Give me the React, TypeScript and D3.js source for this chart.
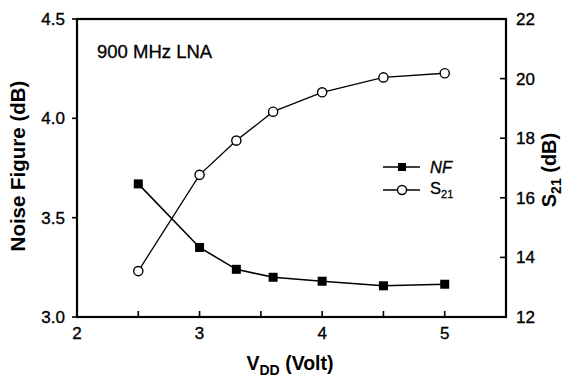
import React from "react";
import * as d3 from "d3";

const vdd = [2.5, 3, 3.3, 3.6, 4, 4.5, 5];
const noiseFigure = [3.67, 3.35, 3.24, 3.2, 3.18, 3.157, 3.165];
const s21 = [13.54, 16.77, 17.92, 18.89, 19.54, 20.04, 20.18];
const xTicks = [2, 3, 4, 5];
const xMinorTicks = [2.5, 3.5, 4.5];
const nfTicks = [3.0, 3.5, 4.0, 4.5];
const s21Ticks = [12, 14, 16, 18, 20, 22];

const W = 566;
const H = 377;
const M = { left: 77, right: 506, top: 19, bottom: 317 };
const FONT = "Liberation Sans, Arial, sans-serif";

export default function App() {
  const x = d3.scaleLinear().domain([2, 5.5]).range([M.left, M.right]);
  const yL = d3.scaleLinear().domain([3.0, 4.5]).range([M.bottom, M.top]);
  const yR = d3.scaleLinear().domain([12, 22]).range([M.bottom, M.top]);

  const nfLine = d3
    .line<number>()
    .x((_, i) => x(vdd[i]))
    .y((d) => yL(d));
  const sLine = d3
    .line<number>()
    .x((_, i) => x(vdd[i]))
    .y((d) => yR(d));

  const sq = 9;
  const r = 4.6;
  const tickText = { fontSize: 17, stroke: "#000", strokeWidth: 0.35 } as const;

  return (
    <svg width={W} height={H} style={{ position: "absolute", left: 0, top: 0 }} fontFamily={FONT}>
      <rect width={W} height={H} fill="#fff" />
      {/* plot frame */}
      <rect
        x={M.left}
        y={M.top}
        width={M.right - M.left}
        height={M.bottom - M.top}
        fill="none"
        stroke="#000"
        strokeWidth={2.2}
      />
      {/* bottom axis ticks point into the plot */}
      {xTicks.concat(xMinorTicks).map((t) => (
        <line key={"xt" + t} x1={x(t)} x2={x(t)} y1={M.bottom} y2={M.bottom - 6} stroke="#000" strokeWidth={1.6} />
      ))}
      {xTicks.map((t) => (
        <text key={"xl" + t} x={x(t)} y={M.bottom + 22} textAnchor="middle" {...tickText}>
          {t}
        </text>
      ))}
      {/* left axis: noise figure */}
      {nfTicks.map((t) => (
        <g key={"yl" + t}>
          <line x1={M.left - 5} x2={M.left} y1={yL(t)} y2={yL(t)} stroke="#000" strokeWidth={1.6} />
          <text x={M.left - 12} y={yL(t) + 6} textAnchor="end" {...tickText}>
            {t.toFixed(1)}
          </text>
        </g>
      ))}
      {/* right axis: S21 */}
      {s21Ticks.map((t) => (
        <g key={"yr" + t}>
          <line x1={M.right - 6} x2={M.right} y1={yR(t)} y2={yR(t)} stroke="#000" strokeWidth={1.6} />
          <text x={M.right + 10} y={yR(t) + 6} textAnchor="start" {...tickText}>
            {t}
          </text>
        </g>
      ))}
      {/* axis titles */}
      <text
        transform={`translate(25,166) rotate(-90)`}
        fontSize={20.5}
        fontWeight="bold"
        textAnchor="middle"
      >
        Noise Figure (dB)
      </text>
      <text
        transform={`translate(556,170) rotate(-90)`}
        fontSize={20}
        fontWeight="bold"
        textAnchor="middle"
      >
        S<tspan fontSize={14} dy={5}>21</tspan>
        <tspan dy={-5}> (dB)</tspan>
      </text>
      <text x={290} y={370} fontSize={19.5} fontWeight="bold" textAnchor="middle">
        V<tspan fontSize={14} dy={5}>DD</tspan>
        <tspan dy={-5}> (Volt)</tspan>
      </text>
      <text x={97} y={58} fontSize={18.5} stroke="#000" strokeWidth={0.3}>
        900 MHz LNA
      </text>
      {/* data series */}
      <path d={nfLine(noiseFigure) || ""} fill="none" stroke="#000" strokeWidth={1.6} />
      <path d={sLine(s21) || ""} fill="none" stroke="#000" strokeWidth={1.3} />
      {noiseFigure.map((v, i) => (
        <rect key={"nf" + i} x={x(vdd[i]) - sq / 2} y={yL(v) - sq / 2} width={sq} height={sq} fill="#000" />
      ))}
      {s21.map((v, i) => (
        <circle key={"s" + i} cx={x(vdd[i])} cy={yR(v)} r={r} fill="#fff" stroke="#000" strokeWidth={1.4} />
      ))}
      {/* legend */}
      <g>
        <line x1={383} x2={420} y1={167} y2={167} stroke="#000" strokeWidth={1.6} />
        <rect x={402 - 4} y={167 - 4} width={8} height={8} fill="#000" />
        <text x={430} y={173} fontSize={16.5} fontStyle="italic" stroke="#000" strokeWidth={0.3}>
          NF
        </text>
        <line x1={383} x2={420} y1={190} y2={190} stroke="#000" strokeWidth={1.6} />
        <circle cx={402} cy={190} r={4.5} fill="#fff" stroke="#000" strokeWidth={1.4} />
        <text x={430} y={194} fontSize={16.5} stroke="#000" strokeWidth={0.3}>
          S<tspan fontSize={11} dy={4}>21</tspan>
        </text>
      </g>
    </svg>
  );
}
